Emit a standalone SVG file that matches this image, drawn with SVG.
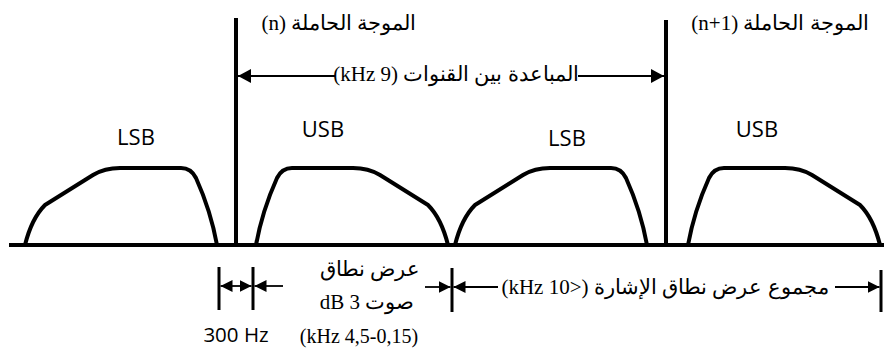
<svg xmlns="http://www.w3.org/2000/svg" width="884" height="351" viewBox="0 0 884 351">
<style>
.ar{font-family:"Liberation Serif","DejaVu Serif",serif;font-size:21px;fill:#000;text-anchor:middle}
.sb{font-family:"Open Sans","Noto Sans",sans-serif;font-size:22px;fill:#000;text-anchor:middle}
.hz{font-family:"Open Sans","Noto Sans",sans-serif;font-size:20.5px;fill:#000;text-anchor:middle}
.curve{fill:none;stroke:#000;stroke-width:4;stroke-linejoin:round;stroke-linecap:round}
.axis{stroke:#000;stroke-width:4;fill:none}
.tick{stroke:#000;stroke-width:3;fill:none}
.dim{stroke:#000;stroke-width:1.8;fill:none}
.big{stroke:#000;stroke-width:2.2;fill:none}
</style>
<defs>
<marker id="ah" viewBox="0 0 12 12" refX="12" refY="6" markerWidth="12" markerHeight="12" markerUnits="userSpaceOnUse" orient="auto-start-reverse">
<path d="M0,0 L12,6 L0,12 z" fill="#000"/>
</marker>
<marker id="ahb" viewBox="0 0 13 14" refX="13" refY="7" markerWidth="13" markerHeight="14" markerUnits="userSpaceOnUse" orient="auto-start-reverse">
<path d="M0,0 L13,7 L0,14 z" fill="#000"/>
</marker>
<path id="sb" d="M0,0 C4,-16 10,-30 20,-40 L68,-70 C78,-76 86,-77 95,-77 L156,-77 C164,-77 168,-73 171,-67 C180,-47 188,-22 192,0"/>
</defs>

<g id="axis">
<line class="axis" x1="9" y1="245" x2="884" y2="245"/>
</g>

<g id="lsb1">
<use href="#sb" class="curve" transform="translate(25,245)"/>
<text class="sb" x="136" y="145">LSB</text>
</g>
<g id="usb1">
<use href="#sb" class="curve" transform="translate(448,245) scale(-1,1)"/>
<text class="sb" x="323" y="137">USB</text>
</g>
<g id="lsb2">
<use href="#sb" class="curve" transform="translate(455,245)"/>
<text class="sb" x="567" y="146">LSB</text>
</g>
<g id="usb2">
<use href="#sb" class="curve" transform="translate(880,245) scale(-1,1)"/>
<text class="sb" x="757" y="137">USB</text>
</g>

<g id="carrier-n">
<line class="axis" x1="236" y1="18" x2="236" y2="245"/>
<text class="ar" x="339" y="30" direction="rtl">الموجة الحاملة (n)</text>
</g>
<g id="carrier-n1">
<line class="axis" x1="666" y1="20" x2="666" y2="245"/>
<text class="ar" x="780" y="30" direction="rtl">الموجة الحاملة (n+1)</text>
</g>

<g id="connectors">
<line class="big" x1="335" y1="76" x2="238" y2="76" marker-end="url(#ahb)"/>
<line class="big" x1="578" y1="76" x2="664" y2="76" marker-end="url(#ahb)"/>
<line class="tick" x1="219" y1="267" x2="219" y2="310"/>
<line class="tick" x1="253" y1="267" x2="253" y2="310"/>
<line class="dim" x1="220.5" y1="286" x2="251.5" y2="286" marker-start="url(#ah)" marker-end="url(#ah)"/>
<line class="dim" x1="283" y1="286" x2="254.5" y2="286" marker-end="url(#ah)"/>
<line class="dim" x1="425" y1="287" x2="450.5" y2="287" marker-end="url(#ah)"/>
<line class="tick" x1="452" y1="268" x2="452" y2="312"/>
<line class="dim" x1="498" y1="287" x2="453.5" y2="287" marker-end="url(#ah)"/>
<line class="dim" x1="835" y1="287" x2="879.5" y2="287" marker-end="url(#ah)"/>
<line class="tick" x1="881" y1="270" x2="881" y2="312"/>
</g>

<g id="spacing-label">
<text class="ar" x="456" y="81" direction="rtl">المباعدة بين القنوات (9 kHz)</text>
</g>
<g id="guard-label">
<text class="hz" x="236" y="342">300 Hz</text>
</g>
<g id="voice-label">
<text class="ar" x="370" y="276" direction="rtl">عرض نطاق</text>
<text class="ar" x="367" y="309" direction="rtl">صوت 3 dB</text>
<text class="ar" x="359" y="343" style="font-size:20px">(kHz 4,5-0,15)</text>
</g>
<g id="total-label">
<text class="ar" x="665" y="294" direction="rtl">مجموع عرض نطاق الإشارة (&lt;10 kHz)</text>
</g>
</svg>
